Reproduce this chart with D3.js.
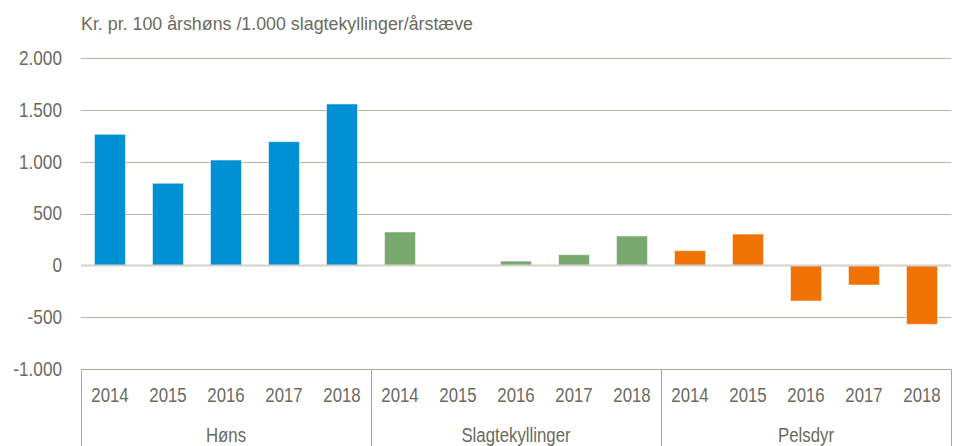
<!DOCTYPE html>
<html>
<head>
<meta charset="utf-8">
<script src="https://cdn.jsdelivr.net/npm/d3@7"></script>
<style>
  body { margin: 0; background: #fff; }
  text { font-family: "Liberation Sans", Arial, sans-serif; fill: #6b6a5f; }
</style>
</head>
<body>
<div id="chart"></div>
<script>
// data
var groups = ["Høns", "Slagtekyllinger", "Pelsdyr"];
var years = ["2014", "2015", "2016", "2017", "2018"];
var hoens = [1264, 792, 1016, 1193, 1556];
var slagtekyllinger = [323, 0, 43, 104, 284];
var pelsdyr = [143, 303, -342, -188, -567];
var yTicks = [-1000, -500, 0, 500, 1000, 1500, 2000];
var title = "Kr. pr. 100 årshøns /1.000 slagtekyllinger/årstæve";

var colors = ["#0090d4", "#78aa6f", "#ef7203"];
var seriesValues = [hoens, slagtekyllinger, pelsdyr];

var rows = [];
groups.forEach(function(g, gi) {
  years.forEach(function(y, yi) {
    rows.push({ group: g, gi: gi, year: y, key: g + "|" + y, value: seriesValues[gi][yi] });
  });
});

var svgWidth = 957, svgHeight = 446;
var left = 81, right = 951;

var svg = d3.select("#chart").append("svg")
  .attr("width", svgWidth)
  .attr("height", svgHeight);

var xScale = d3.scaleBand()
  .domain(rows.map(d => d.key))
  .range([left, right])
  .paddingInner(0.466)
  .paddingOuter(0.233);

var yScale = d3.scaleLinear()
  .domain([-1000, 2000])
  .range([369.3, 57.9]);

var locale = d3.formatLocale({ decimal: ",", thousands: ".", grouping: [3], currency: ["", " kr."], minus: "-" });
var fmt = locale.format(",d");

// narrow-looking text: squeeze horizontally around the anchor point
function narrowText(sel, x, y, sx) {
  var fx = typeof x === "function" ? x : () => x;
  var fy = typeof y === "function" ? y : () => y;
  return sel.attr("transform", (d, i) => `translate(${fx(d, i)}, ${fy(d, i)}) scale(${sx}, 1)`);
}

// gridlines
svg.append("g").selectAll("line")
  .data(yTicks.filter(d => d !== 0 && d !== -1000))
  .enter().append("line")
  .attr("x1", left).attr("x2", right)
  .attr("y1", d => Math.round(yScale(d)) + 0.5)
  .attr("y2", d => Math.round(yScale(d)) + 0.5)
  .attr("stroke", "#b5b3a6")
  .attr("stroke-width", 1);

// y tick labels
narrowText(svg.append("g").selectAll("text")
  .data(yTicks)
  .enter().append("text")
  .attr("text-anchor", "end")
  .attr("font-size", "20px")
  .attr("dy", "0.34em")
  .text(d => fmt(d)), 62, d => yScale(d), 0.86);

// bars
svg.append("g").selectAll("rect")
  .data(rows)
  .enter().append("rect")
  .attr("x", d => xScale(d.key))
  .attr("width", xScale.bandwidth())
  .attr("y", d => yScale(Math.max(0, d.value)))
  .attr("height", d => Math.abs(yScale(d.value) - yScale(0)))
  .attr("fill", d => colors[d.gi])
  .attr("stroke", "#ffffff")
  .attr("stroke-opacity", 0.5)
  .attr("stroke-width", 1);

// zero line
svg.append("line")
  .attr("x1", left).attr("x2", right)
  .attr("y1", yScale(0)).attr("y2", yScale(0))
  .attr("stroke", "#d3d1c9")
  .attr("stroke-width", 2);

// category axis box
var axisTop = Math.round(yScale(-1000)) + 0.5;
svg.append("line")
  .attr("x1", left).attr("x2", right)
  .attr("y1", axisTop).attr("y2", axisTop)
  .attr("stroke", "#a9a797");

var bounds = groups.map(g => xScale(g + "|" + years[0]) - (xScale.step() - xScale.bandwidth()) / 2);
bounds.push(right);
svg.append("g").selectAll("line")
  .data(bounds)
  .enter().append("line")
  .attr("x1", d => Math.round(d) + 0.5).attr("x2", d => Math.round(d) + 0.5)
  .attr("y1", axisTop).attr("y2", svgHeight)
  .attr("stroke", "#a9a797");

// year labels
narrowText(svg.append("g").selectAll("text")
  .data(rows)
  .enter().append("text")
  .attr("text-anchor", "middle")
  .attr("font-size", "21px")
  .text(d => d.year), d => xScale(d.key) + xScale.bandwidth() / 2, 402, 0.8);

// group labels
narrowText(svg.append("g").selectAll("text")
  .data(groups)
  .enter().append("text")
  .attr("text-anchor", "middle")
  .attr("font-size", "21px")
  .text(d => d), (d, i) => (bounds[i] + bounds[i + 1]) / 2, 442, 0.8);

// title
svg.append("text")
  .attr("x", left)
  .attr("y", 30)
  .attr("font-size", "18px")
  .attr("textLength", 392)
  .attr("lengthAdjust", "spacingAndGlyphs")
  .text(title);
</script>
</body>
</html>
